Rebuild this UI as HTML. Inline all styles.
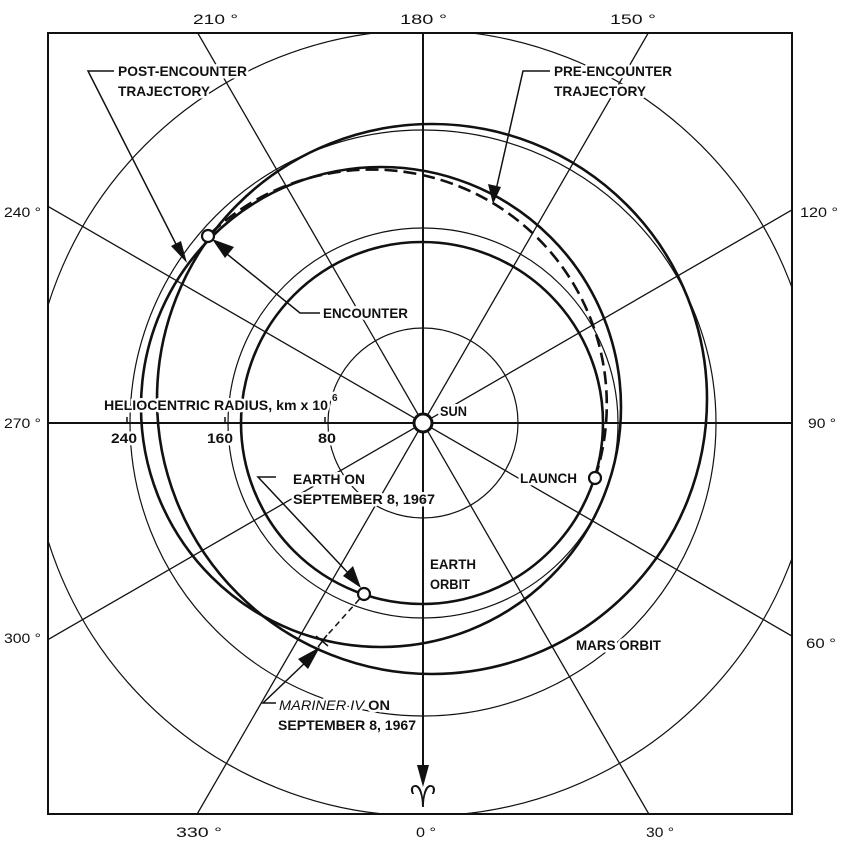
<!DOCTYPE html>
<html><head><meta charset="utf-8"><style>
html,body{margin:0;padding:0;background:#fff;overflow:hidden;width:842px;height:848px;}
svg{display:block;}
.lbl{paint-order:stroke;stroke:#fff;stroke-width:5px;stroke-linejoin:round;}
</style></head><body>
<svg width="842" height="848" viewBox="0 0 842 848" xmlns="http://www.w3.org/2000/svg" font-family="'Liberation Sans','DejaVu Sans',sans-serif" fill="#111">
<defs><clipPath id="fr"><rect x="48" y="33" width="744" height="781"/></clipPath></defs>
<rect width="842" height="848" fill="#fff"/>
<g clip-path="url(#fr)" fill="none" stroke="#111">
  <g stroke-width="1.3">
    <line x1="773" y1="1029" x2="73" y2="-183"/>
    <line x1="1029" y1="773" x2="-183" y2="73"/>
    <line x1="1029" y1="73" x2="-183" y2="773"/>
    <line x1="773" y1="-183" x2="73" y2="1029"/>
  </g>
  <g stroke-width="2">
    <line x1="423" y1="33" x2="423" y2="730"/>
    <line x1="48" y1="423" x2="792" y2="423"/>
  </g>
  <g stroke-width="1.2">
    <circle cx="423" cy="423" r="95"/>
    <circle cx="423" cy="423" r="195"/>
    <circle cx="423" cy="423" r="293"/>
    <circle cx="423" cy="423" r="393"/>
  </g>
  <g stroke-width="2.6">
    <circle cx="422" cy="423" r="181"/>
    <circle cx="432" cy="399" r="275"/>
    <circle cx="381" cy="407" r="240"/>
    <path d="M595 478 A235 235 0 0 0 208 236" stroke-dasharray="13 6"/>
  </g>
  <line x1="322" y1="641" x2="364" y2="594" stroke-width="1.5" stroke-dasharray="6 4"/>
  <path d="M316 636 L328 646 M318 647 L327 635" stroke-width="1.5"/>
  <g stroke-width="1.5">
    <path d="M114 71 L88 71 L181 254"/>
    <path d="M320 313 L300 313 L222 250"/>
    <path d="M550 71 L523 71 L496 190"/>
    <path d="M276 477 L258 477 L350 575"/>
    <path d="M276 703 L263 703 L308 660"/>
    <path d="M423 730 L423 770" stroke-width="2"/>
  </g>
</g>
<g fill="#111" stroke="none">
  <polygon points="187,263 171,246 181,241"/>
  <polygon points="212,239 234,247 225,258"/>
  <polygon points="493,204 488,184 501,187"/>
  <polygon points="361,588 343,576 353,566"/>
  <polygon points="320,647 308,669 298,659"/>
  <polygon points="423,787 417,765 429,765"/>
</g>
<g fill="#fff" stroke="#111" stroke-width="2.2">
  <circle cx="423" cy="423" r="9" stroke-width="3"/>
  <circle cx="208" cy="236" r="6"/>
  <circle cx="595" cy="478" r="6"/>
  <circle cx="364" cy="594" r="6"/>
</g>
<g stroke="#111" stroke-width="1.5">
  <line x1="127" y1="417" x2="127" y2="423"/>
  <line x1="225" y1="417" x2="225" y2="423"/>
  <line x1="325" y1="417" x2="325" y2="423"/>
</g>
<rect x="48" y="33" width="744" height="781" fill="none" stroke="#111" stroke-width="2"/>
<g class="lbl" font-weight="bold" font-size="14">
  <text x="118" y="76" textLength="129" lengthAdjust="spacingAndGlyphs">POST-ENCOUNTER</text>
  <text x="118" y="96" textLength="92" lengthAdjust="spacingAndGlyphs">TRAJECTORY</text>
  <text x="554" y="76" textLength="118" lengthAdjust="spacingAndGlyphs">PRE-ENCOUNTER</text>
  <text x="554" y="96" textLength="92" lengthAdjust="spacingAndGlyphs">TRAJECTORY</text>
  <text x="323" y="318" textLength="85" lengthAdjust="spacingAndGlyphs">ENCOUNTER</text>
  <text x="104" y="410" textLength="224" lengthAdjust="spacingAndGlyphs">HELIOCENTRIC RADIUS, km x 10</text>
  <text x="332" y="401" font-size="10">6</text>
  <text x="440" y="416" textLength="27" lengthAdjust="spacingAndGlyphs">SUN</text>
  <text x="520" y="483" textLength="57" lengthAdjust="spacingAndGlyphs">LAUNCH</text>
  <text x="293" y="484" textLength="72" lengthAdjust="spacingAndGlyphs">EARTH ON</text>
  <text x="293" y="504" textLength="142" lengthAdjust="spacingAndGlyphs">SEPTEMBER 8, 1967</text>
  <text x="430" y="569" textLength="46" lengthAdjust="spacingAndGlyphs">EARTH</text>
  <text x="430" y="589" textLength="40" lengthAdjust="spacingAndGlyphs">ORBIT</text>
  <text x="279" y="710" textLength="111" lengthAdjust="spacingAndGlyphs"><tspan font-style="italic" font-weight="normal">MARINER IV</tspan> ON</text>
  <text x="278" y="730" textLength="138" lengthAdjust="spacingAndGlyphs">SEPTEMBER 8, 1967</text>
  <text x="576" y="650" textLength="85" lengthAdjust="spacingAndGlyphs">MARS ORBIT</text>
  <text x="111" y="443" textLength="26" lengthAdjust="spacingAndGlyphs">240</text>
  <text x="207" y="443" textLength="26" lengthAdjust="spacingAndGlyphs">160</text>
  <text x="318" y="443" textLength="18" lengthAdjust="spacingAndGlyphs">80</text>
</g>
<text x="423" y="807" text-anchor="middle" font-size="30" font-family="'DejaVu Sans',sans-serif">♈</text>
<g font-size="14">
  <text x="400" y="24" textLength="47" lengthAdjust="spacingAndGlyphs">180 °</text>
  <text x="193" y="24" textLength="45" lengthAdjust="spacingAndGlyphs">210 °</text>
  <text x="610" y="24" textLength="46" lengthAdjust="spacingAndGlyphs">150 °</text>
  <text x="4" y="217" textLength="37" lengthAdjust="spacingAndGlyphs">240 °</text>
  <text x="4" y="428" textLength="37" lengthAdjust="spacingAndGlyphs">270 °</text>
  <text x="4" y="643" textLength="37" lengthAdjust="spacingAndGlyphs">300 °</text>
  <text x="800" y="217" textLength="38" lengthAdjust="spacingAndGlyphs">120 °</text>
  <text x="808" y="428" textLength="28" lengthAdjust="spacingAndGlyphs">90 °</text>
  <text x="806" y="648" textLength="30" lengthAdjust="spacingAndGlyphs">60 °</text>
  <text x="176" y="837" textLength="46" lengthAdjust="spacingAndGlyphs">330 °</text>
  <text x="416" y="837" textLength="20" lengthAdjust="spacingAndGlyphs">0 °</text>
  <text x="646" y="837" textLength="28" lengthAdjust="spacingAndGlyphs">30 °</text>
</g>
</svg>
</body></html>
